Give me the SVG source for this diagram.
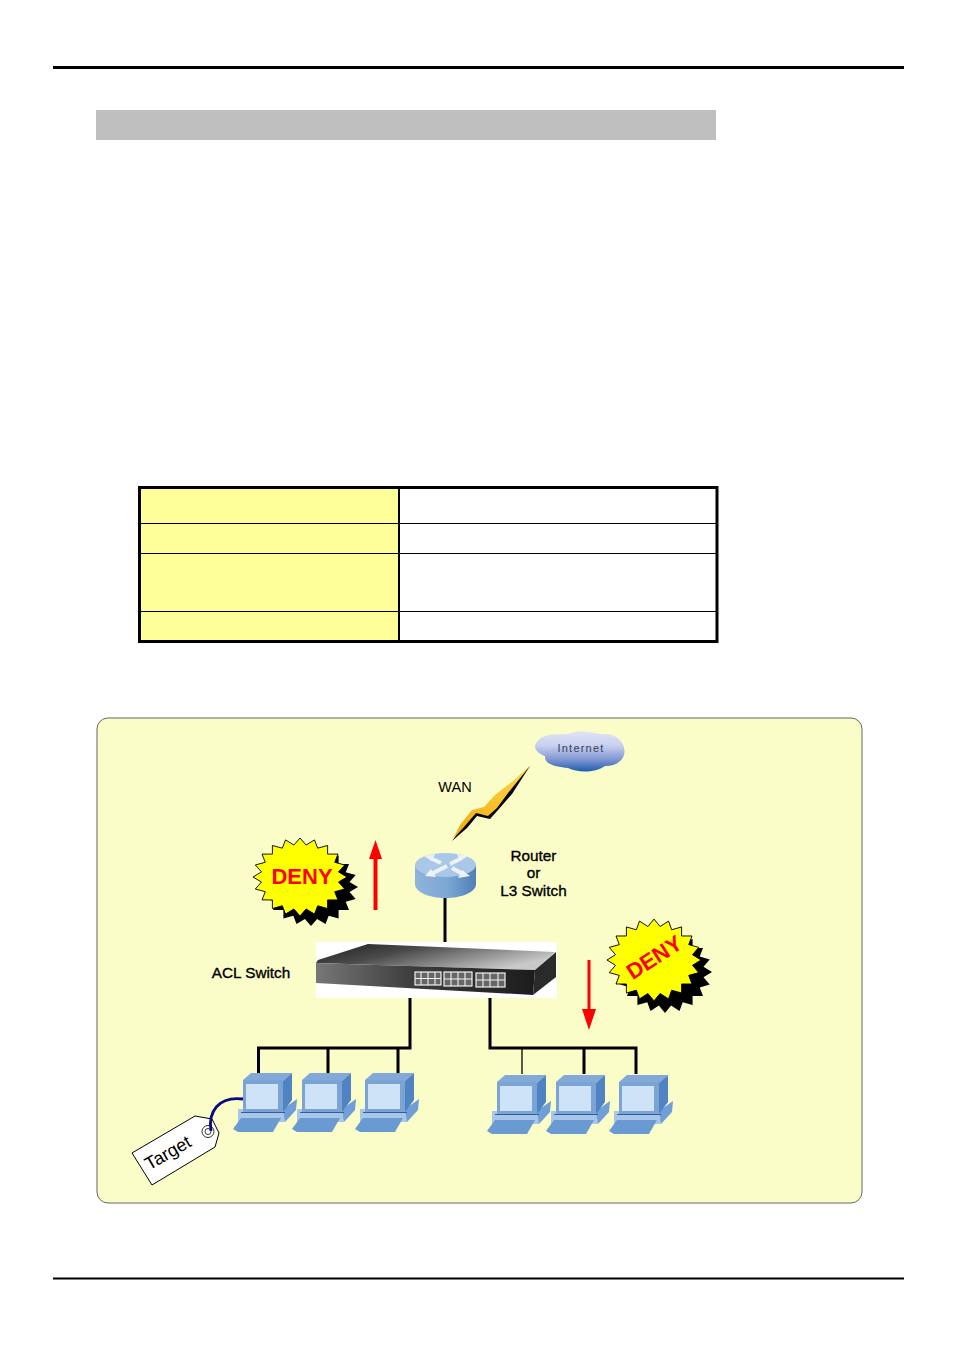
<svg xmlns="http://www.w3.org/2000/svg" width="954" height="1350" viewBox="0 0 954 1350">
<style>
.t{font-family:"Liberation Sans",Arial,sans-serif;fill:#000;text-anchor:middle}
.b{stroke:#000;stroke-width:.35px;font-size:15.300px}
.deny{font-family:"Liberation Sans",Arial,sans-serif;font-weight:bold;fill:#f00;font-size:22px;text-anchor:middle}
.w{stroke:#000;stroke-width:3;fill:none}
.thin{stroke:#000;stroke-width:1.3;fill:none}
.rule{stroke:#000;fill:none}
</style>
<defs>
<linearGradient id="cyl" x1="0" x2="1" y1="0" y2="0"><stop offset="0" stop-color="#8fb4dc"/><stop offset=".55" stop-color="#7ba6d3"/><stop offset="1" stop-color="#4f7fb8"/></linearGradient>
<linearGradient id="cloudG" x1="0" x2="0" y1="0" y2="1"><stop offset="0" stop-color="#dfe3f6"/><stop offset=".35" stop-color="#c9d0ee"/><stop offset=".7" stop-color="#7f97d2"/><stop offset="1" stop-color="#1f5cb0"/></linearGradient>
<linearGradient id="swTop" x1="0" x2="1" y1="0" y2=".5"><stop offset="0" stop-color="#1e1e1e"/><stop offset=".4" stop-color="#4a4a4a"/><stop offset="1" stop-color="#c8c8c8"/></linearGradient>
<linearGradient id="swFront" x1="0" x2="1" y1="0" y2="0"><stop offset="0" stop-color="#777"/><stop offset=".45" stop-color="#3c3c3c"/><stop offset="1" stop-color="#1c1c1c"/></linearGradient>
<linearGradient id="bolt" x1="1" x2="0" y1="0" y2="1"><stop offset="0" stop-color="#ffd84a"/><stop offset="1" stop-color="#efa90c"/></linearGradient>
<polygon id="star" points="47,0 38.500,6.100 44.700,14.500 34.700,17.700 38,27.600 27.600,27.600 27.600,38 17.700,34.700 14.500,44.700 6.100,38.500 0,47 -6.100,38.500 -14.500,44.700 -17.700,34.700 -27.600,38 -27.600,27.600 -38,27.600 -34.700,17.700 -44.700,14.500 -38.500,6.100 -47,0 -38.500,-6.100 -44.700,-14.500 -34.700,-17.700 -38,-27.600 -27.600,-27.600 -27.600,-38 -17.700,-34.700 -14.500,-44.700 -6.100,-38.500 0,-47 6.100,-38.500 14.500,-44.700 17.700,-34.700 27.600,-38 27.600,-27.600 38,-27.600 34.700,-17.700 44.700,-14.500 38.500,-6.100"/>
<g id="pc">
<polygon points="5,37 52,37 52,50 5,50" fill="#a9c6e8"/>
<polygon points="50,37 64,27 63,38 52,50" fill="#6f9fd6"/>
<polygon points="0,57 8,46 48,46 40,60 5,60" fill="#6a9ad2"/>
<polygon points="10,8 18,1 59,1 50,9" fill="#82a9d8"/>
<polygon points="50,9 59,1 59,28 50,40" fill="#4f83c4"/>
<rect x="10" y="8" width="40" height="33" fill="#7ba3d4"/>
<rect x="13" y="12" width="32" height="25" fill="#cfe3f8"/>
<line x1="8" y1="40.500" x2="52" y2="40.500" stroke="#2f5f9e" stroke-width="1.200"/>
</g>
</defs>
<rect width="954" height="1350" fill="#fff"/>
<g id="page">
<line class="rule" x1="53" y1="67.500" x2="904" y2="67.500" stroke-width="3"/>
<line class="rule" x1="53" y1="1278.500" x2="904" y2="1278.500" stroke-width="2"/>
<rect x="96" y="110" width="620" height="30" fill="#bfbfbf"/>
</g>
<g id="table">
<rect x="140" y="488" width="259" height="153" fill="#ffff99"/>
<g class="rule" stroke-width="1">
<line x1="140" y1="523.500" x2="717" y2="523.500"/>
<line x1="140" y1="553.500" x2="717" y2="553.500"/>
<line x1="140" y1="611.500" x2="717" y2="611.500"/>
</g>
<line class="rule" x1="399" y1="488" x2="399" y2="641" stroke-width="2"/>
<rect class="rule" x="139.500" y="487.500" width="577.500" height="154" stroke-width="3"/>
</g>
<rect id="panel" x="97" y="718" width="765" height="485" rx="11" fill="#fbfdc8" stroke="#666" stroke-width="1"/>
<g id="connectors">
<path class="w" d="M445 897V943"/>
<path class="w" d="M410 998V1048H258.500V1073M328 1048V1073M398 1048V1073"/>
<path class="w" d="M490 998V1048H636V1074M584 1048V1074"/>
<path class="thin" d="M522 1048V1074"/>
<path id="bolt-wan" d="M530 766L512 794 498 810 490 819 477 816 467 828 452 841 463 826 474 812 485 810 497 797 514 781Z" fill="#000"/>
<path d="M530 766L508 793 497 808 488 816 476 813 464 827 453 839 460 825 472 810 484 807 495 795 513 781Z" fill="url(#bolt)"/>
</g>
<g id="arrow-up"><path d="M373.500 910V859H369L375.500 840 382 859H377.500V910Z" fill="#f00"/></g>
<g id="arrow-down"><path d="M587.500 960V1009H582L589 1030 596 1009H590.500V960Z" fill="#f00"/></g>
<g id="cloud">
<path d="M541 738C549 732 565 736 572 733 585 729 597 735 603 734 615 733 625 741 624.500 752 624 760 617 766 605 766 595 773 578 773 568 768 558 767 544 765 545 756 536 753 530 746 541 738Z" fill="url(#cloudG)"/>
<text x="581" y="751.500" font-family="Liberation Sans,sans-serif" font-size="11" text-anchor="middle" letter-spacing="1.200" fill="#3c3c5a">Internet</text>
</g>
<text id="wan" class="t" x="455" y="792" font-size="14.500">WAN</text>
<g id="router">
<path d="M415 865V884C415 892 429 898 445.500 898S476 892 476 884V865Z" fill="url(#cyl)"/>
<ellipse cx="445.500" cy="865" rx="30.500" ry="12" fill="#a9c7e6"/>
<g stroke="#eef2f6" stroke-width="4" fill="none">
<path d="M430 858L441 863M433 873L447 866M450 864L462 858M452 868L463 874"/>
</g>
<path d="M424 856L435 854 432 861ZM468 856L457 854 460 861ZM425 876L436 877 431 869ZM470 876L458 878 462 870Z" fill="#eef2f6"/>
</g>
<g id="router-label" class="t">
<text class="b" x="533.500" y="861">Router</text>
<text class="b" x="533.500" y="878">or</text>
<text class="b" x="533.500" y="896">L3 Switch</text>
</g>
<g id="switch">
<rect x="316" y="942" width="241" height="56" fill="#fff"/>
<polygon points="318,960 368,944 555,952 535,970 316,963" fill="url(#swTop)"/>
<polygon points="316,963 535,970 533,995 316,983" fill="url(#swFront)"/>
<polygon points="535,970 556,952 556,977 533,995" fill="#2a2a2a"/>
<g fill="#666" stroke="#f2f2f2" stroke-width="1.200">
<rect x="415" y="972" width="26" height="13"/>
<rect x="444" y="972" width="28" height="14"/>
<rect x="476" y="973" width="29" height="14"/>
</g>
<g fill="none" stroke="#f2f2f2" stroke-width="1.100">
<path d="M415 978.500H441M444 979H472M476 980H505M421 972V985M428 972V985M435 972V985M451 972V986M458 972V986M465 972V986M483 973V987M490 973V987M498 973V987"/>
</g>
</g>
<text id="switch-label" class="t b" x="251" y="978">ACL Switch</text>
<g id="deny-left">
<use href="#star" transform="translate(311 887) scale(1 .83)" fill="#000"/>
<use href="#star" transform="translate(300 877) scale(1 .83)" fill="#ff0" stroke="#000" stroke-width="1"/>
<text class="deny" x="302" y="884">DENY</text>
</g>
<g id="deny-right">
<use href="#star" transform="translate(665 972) scale(1 .87)" fill="#000"/>
<use href="#star" transform="translate(654 960) scale(1 .87)" fill="#ff0" stroke="#000" stroke-width="1"/>
<text class="deny" transform="translate(654 957) rotate(-33)" x="0" y="8">DENY</text>
</g>
<g id="pcs-left">
<use href="#pc" x="233" y="1072"/>
<use href="#pc" x="292" y="1072"/>
<use href="#pc" x="355" y="1072"/>
</g>
<g id="pcs-right">
<use href="#pc" x="487" y="1074"/>
<use href="#pc" x="546" y="1074"/>
<use href="#pc" x="609" y="1074"/>
</g>
<g id="target-tag">
<polygon points="132,1153 195,1116 212,1119 219,1133 215,1147 152,1185" fill="#fff" stroke="#000" stroke-width="1"/>
<circle cx="208" cy="1131.500" r="6" fill="none" stroke="#333" stroke-width="1"/>
<circle cx="208" cy="1131.500" r="3" fill="none" stroke="#333" stroke-width="1"/>
<text class="t" transform="translate(171 1158) rotate(-30)" font-size="18">Target</text>
<path d="M211 1131C208 1112 218 1096 243 1099" fill="none" stroke="#0a0a80" stroke-width="2.800"/>
</g>
</svg>
